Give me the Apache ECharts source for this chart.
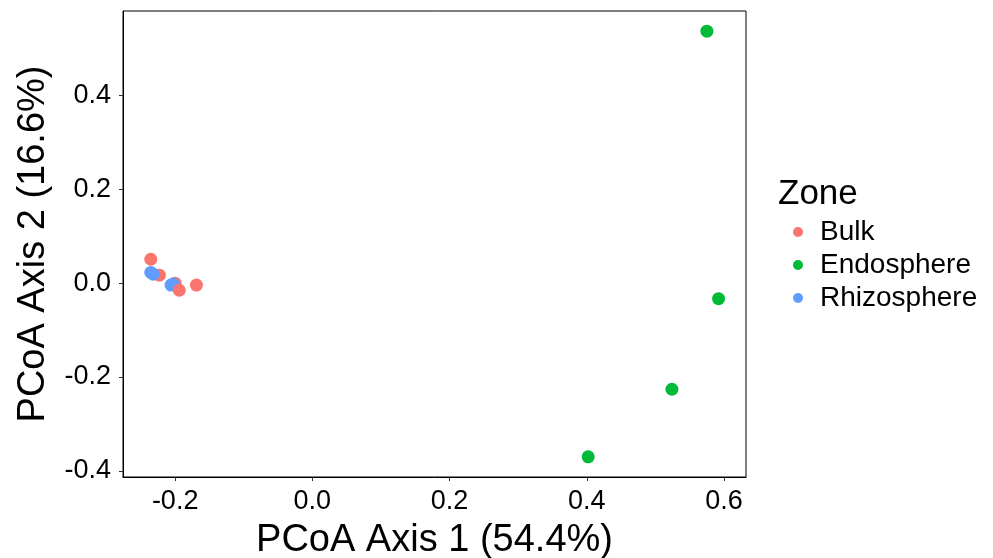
<!DOCTYPE html>
<html><head><meta charset="utf-8">
<script src="https://cdn.jsdelivr.net/npm/echarts@6/dist/echarts.min.js"></script>
<style>html,body{margin:0;padding:0;background:#fff}#c{width:993px;height:558px}</style>
</head><body><div id="c"></div>
<script>
const zones = ["Bulk", "Endosphere", "Rhizosphere"];
const colors = ["#F8766D", "#00BA38", "#619CFF"];
const bulkX = [-0.2355, -0.223, -0.200, -0.169];
const bulkY = [0.051, 0.017, 0.000, -0.004];
const bulkLateX = [-0.194];
const bulkLateY = [-0.015];
const endoX = [0.575, 0.592, 0.524, 0.402];
const endoY = [0.537, -0.033, -0.226, -0.370];
const rhizoX = [-0.2355, -0.232, -0.206, -0.203];
const rhizoY = [0.023, 0.019, -0.004, -0.002];
const xTicks = [-0.2, 0.0, 0.2, 0.4, 0.6];
const yTicks = [-0.4, -0.2, 0.0, 0.2, 0.4];
const xTitle = "PCoA Axis 1 (54.4%)";
const yTitle = "PCoA Axis 2 (16.6%)";
const legendTitle = "Zone";

const pts = (xs, ys) => xs.map((x, i) => [x, ys[i]]);
const font = "Liberation Sans, Arial, sans-serif";
const chart = echarts.init(document.getElementById('c'), null, {renderer: 'canvas'});
const axisCommon = {
  axisLine: {show: true, onZero: false, lineStyle: {color: '#000', width: 1}},
  axisTick: {show: true, length: 4, inside: false, lineStyle: {color: '#333', width: 1}},
  splitLine: {show: false},
  nameLocation: 'middle',
  nameTextStyle: {fontFamily: font, fontSize: 38, color: '#000'}
};
const sym = 13;
chart.setOption({
  animation: false,
  backgroundColor: '#fff',
  title: {text: legendTitle, left: 773, top: 172, textStyle: {fontFamily: font, fontSize: 35, fontWeight: 'normal', color: '#000'}},
  legend: {
    data: zones, orient: 'vertical', left: 788, top: 213, itemGap: 5,
    icon: 'circle', itemWidth: 10, itemHeight: 10,
    textStyle: {fontFamily: font, fontSize: 28, color: '#000', padding: [0, 0, 0, 12]}
  },
  grid: {left: 123, right: 247, top: 11, bottom: 81, containLabel: false, outerBoundsMode: 'none',
         show: true, borderColor: '#000', borderWidth: 1, backgroundColor: '#fff'},
  xAxis: Object.assign({}, axisCommon, {
    type: 'value', min: -0.276, max: 0.632, name: xTitle, nameGap: 45,
    axisLabel: {customValues: xTicks, formatter: v => v.toFixed(1), fontFamily: font, fontSize: 27, color: '#000', margin: 11},
    axisTick: Object.assign({}, axisCommon.axisTick, {customValues: xTicks})
  }),
  yAxis: Object.assign({}, axisCommon, {
    type: 'value', min: -0.413, max: 0.580, name: yTitle, nameGap: 70,
    axisLabel: {customValues: yTicks, formatter: v => v.toFixed(1), fontFamily: font, fontSize: 27, color: '#000', margin: 12},
    axisTick: Object.assign({}, axisCommon.axisTick, {customValues: yTicks})
  }),
  series: [
    {name: zones[0], type: 'scatter', data: pts(bulkX, bulkY), symbolSize: sym, itemStyle: {color: colors[0], opacity: 1}},
    {name: zones[1], type: 'scatter', data: pts(endoX, endoY), symbolSize: sym, itemStyle: {color: colors[1], opacity: 1}},
    {name: zones[2], type: 'scatter', data: pts(rhizoX, rhizoY), symbolSize: sym, itemStyle: {color: colors[2], opacity: 1}},
    {name: zones[0], type: 'scatter', data: pts(bulkLateX, bulkLateY), symbolSize: sym, itemStyle: {color: colors[0], opacity: 1}}
  ]
});
</script></body></html>
